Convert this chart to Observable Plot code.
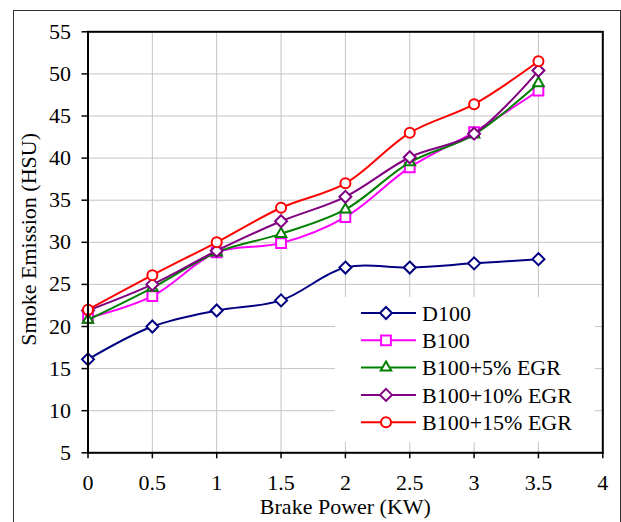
<!DOCTYPE html>
<html><head><meta charset="utf-8">
<script src="https://cdn.jsdelivr.net/npm/d3@7"></script>
<script src="https://cdn.jsdelivr.net/npm/@observablehq/plot@0.6"></script>
<style>
body{margin:0;background:#fff;}
#wrap{position:relative;width:621px;height:522px;overflow:hidden;background:#fff;}
#outer{position:absolute;left:13px;top:10px;width:607.5px;height:560px;border:1.5px solid #333;box-sizing:border-box;pointer-events:none;}
#legend{position:absolute;left:335px;top:297px;}
</style></head><body><div id="wrap"></div>
<script>
const power = [0, 0.5, 1, 1.5, 2, 2.5, 3, 3.5];
const seriesNames = ["D100", "B100", "B100+5% EGR", "B100+10% EGR", "B100+15% EGR"];
const d100  = [16.1, 20.0, 21.9, 23.1, 27.0, 27.0, 27.5, 28.0];
const b100  = [21.0, 23.6, 28.8, 29.9, 33.0, 38.9, 43.1, 48.0];
const egr5  = [20.8, 24.6, 28.8, 31.0, 33.9, 39.5, 42.8, 48.9];
const egr10 = [21.9, 25.0, 29.0, 32.5, 35.4, 40.1, 42.9, 50.4];
const egr15 = [22.0, 26.1, 30.0, 34.1, 37.0, 43.0, 46.4, 51.5];
const xTicks = [0, 0.5, 1, 1.5, 2, 2.5, 3, 3.5, 4];
const xTickLabels = ["0", "0.5", "1", "1.5", "2", "2.5", "3", "3.5", "4"];
const yTicks = [5, 10, 15, 20, 25, 30, 35, 40, 45, 50, 55];
const yTickLabels = ["5", "10", "15", "20", "25", "30", "35", "40", "45", "50", "55"];
const xTitle = "Brake Power (KW)";
const yTitle = "Smoke Emission (HSU)";

const colors = ["#000080", "#FF00FF", "#008000", "#800080", "#FF0000"];
const symbols = ["diamond2", "square2", "triangle2", "diamond2", "circle"];
const radii = [5.4, 6.2, 5.0, 5.4, 5.0];
const allValues = [d100, b100, egr5, egr10, egr15];

const data = [];
seriesNames.forEach((s, k) => power.forEach((p, i) => data.push({series: s, power: p, value: allValues[k][i]})));

const font = "'Liberation Serif', 'Times New Roman', serif";
const marks = [
  Plot.gridX(xTicks, {stroke: "#c4c4c4", strokeOpacity: 1, strokeWidth: 1}),
  Plot.gridY(yTicks, {stroke: "#c4c4c4", strokeOpacity: 1, strokeWidth: 1}),
];
seriesNames.forEach((s, k) => {
  const sub = data.filter(d => d.series === s);
  marks.push(Plot.line(sub, {x: "power", y: "value", stroke: colors[k], strokeWidth: 2, curve: "catmull-rom"}));
  marks.push(Plot.dot(sub, {x: "power", y: "value", stroke: colors[k], fill: "white", strokeWidth: 2, symbol: symbols[k], r: radii[k]}));
});
marks.push(
  Plot.frame({stroke: "black", strokeWidth: 2}),
  Plot.axisY(yTicks, {tickSize: 6, tickPadding: 11, strokeWidth: 1.5, fontSize: 22, label: null, tickFormat: d => yTickLabels[yTicks.indexOf(d)]}),
  Plot.axisX(xTicks, {tickSize: 6, tickPadding: 16, strokeWidth: 1.5, fontSize: 22, label: null, tickFormat: d => xTickLabels[xTicks.indexOf(d)]}),
  Plot.text([yTitle], {frameAnchor: "left", rotate: -90, dx: -59.5, dy: -3, text: d => d, fontSize: 22, textAnchor: "middle", lineAnchor: "middle", fill: "black"}),
  Plot.text([xTitle], {frameAnchor: "bottom", dy: 54, text: d => d, fontSize: 22, textAnchor: "middle", lineAnchor: "middle", fill: "black"})
);

const chart = Plot.plot({
  width: 621, height: 522,
  marginLeft: 87.5, marginRight: 18.7, marginTop: 31.3, marginBottom: 69.7,
  x: {domain: [0, 4]},
  y: {domain: [5, 55]},
  style: {fontFamily: font, fontSize: "22px", color: "black", background: "transparent", overflow: "visible"},
  marks
});

const wrap = document.getElementById("wrap");
wrap.appendChild(chart);

// legend
const lw = 260, lh = 145;
const leg = d3.select(wrap).append("div").attr("id", "legend")
  .append("svg").attr("width", lw).attr("height", lh)
  .style("font-family", font).style("font-size", "22px");
leg.append("rect").attr("width", lw).attr("height", lh).attr("fill", "white");
const symMap = {diamond2: d3.symbolDiamond2, square2: d3.symbolSquare2, triangle2: d3.symbolTriangle2, circle: d3.symbolCircle};
seriesNames.forEach((s, k) => {
  const cy = 16 + k * 27.3;
  const g = leg.append("g").attr("transform", `translate(0,${cy})`);
  g.append("line").attr("x1", 26).attr("x2", 81).attr("y1", 0).attr("y2", 0).attr("stroke", colors[k]).attr("stroke-width", 2);
  g.append("path").attr("transform", "translate(51,0)")
    .attr("d", d3.symbol(symMap[symbols[k]], Math.PI * radii[k] * radii[k])())
    .attr("fill", "white").attr("stroke", colors[k]).attr("stroke-width", 2);
  g.append("text").attr("x", 87).attr("y", 0).attr("dy", "0.35em").attr("fill", "black").text(s);
});

d3.select(wrap).append("div").attr("id", "outer");
</script>
</body></html>
